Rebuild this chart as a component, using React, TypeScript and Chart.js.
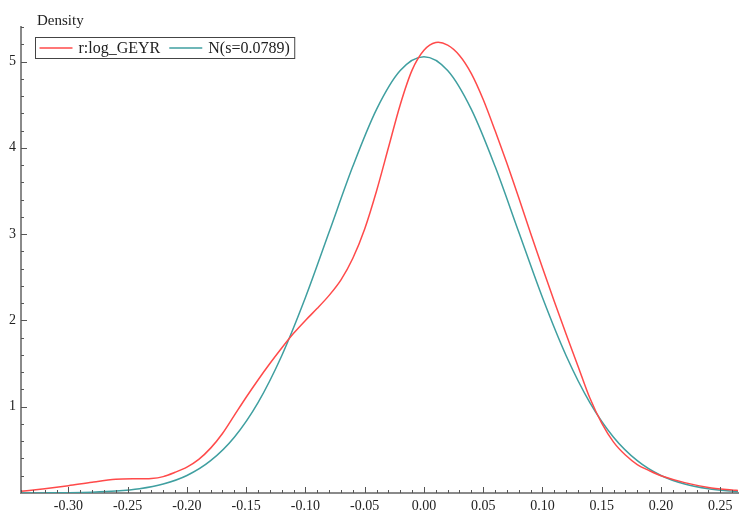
import React, { useEffect, useRef } from "react";
import { Chart, registerables } from "chart.js";

Chart.register(...registerables);

const redX = [-0.34, -0.335, -0.32, -0.30, -0.28, -0.26, -0.24, -0.23, -0.22, -0.21, -0.20, -0.19, -0.18, -0.17, -0.16, -0.15, -0.14, -0.13, -0.12, -0.11, -0.10, -0.09, -0.08, -0.07, -0.06, -0.05, -0.04, -0.03, -0.02, -0.01, 0.0, 0.01, 0.02, 0.03, 0.04, 0.05, 0.06, 0.07, 0.08, 0.09, 0.10, 0.11, 0.12, 0.13, 0.14, 0.15, 0.16, 0.17, 0.18, 0.19, 0.20, 0.22, 0.24, 0.26, 0.265];
const redY = [0.02, 0.027, 0.05, 0.085, 0.125, 0.158, 0.165, 0.167, 0.19, 0.24, 0.30, 0.39, 0.52, 0.69, 0.90, 1.11, 1.31, 1.50, 1.68, 1.85, 2.00, 2.14, 2.29, 2.47, 2.72, 3.06, 3.50, 4.00, 4.50, 4.90, 5.13, 5.22, 5.19, 5.07, 4.86, 4.56, 4.20, 3.82, 3.42, 3.01, 2.61, 2.22, 1.84, 1.47, 1.10, 0.81, 0.59, 0.44, 0.33, 0.26, 0.20, 0.12, 0.065, 0.035, 0.03];

const tealX = [-0.34, -0.32, -0.30, -0.28, -0.26, -0.24, -0.22, -0.20, -0.18, -0.16, -0.14, -0.12, -0.10, -0.08, -0.06, -0.04, -0.02, 0.0, 0.02, 0.04, 0.06, 0.08, 0.10, 0.12, 0.14, 0.16, 0.18, 0.20, 0.22, 0.24, 0.26, 0.265];
const tealY = [0.0005, 0.0014, 0.0037, 0.0093, 0.022, 0.049, 0.104, 0.203, 0.375, 0.647, 1.048, 1.591, 2.265, 3.024, 3.786, 4.446, 4.896, 5.056, 4.896, 4.446, 3.786, 3.024, 2.265, 1.591, 1.048, 0.647, 0.375, 0.203, 0.104, 0.049, 0.022, 0.017];

const xTicks = [-0.30, -0.25, -0.20, -0.15, -0.10, -0.05, 0.0, 0.05, 0.10, 0.15, 0.20, 0.25];
const yTicks = [0, 1, 2, 3, 4, 5];

const seriesLabels = ["r:log_GEYR", "N(s=0.0789)"];
const seriesColors = ["#ff4a4a", "#3f9fa0"];
const yTitle = "Density";

const FONT = "'Liberation Serif', 'Times New Roman', serif";

const decorPlugin = {
  id: "decor",
  afterDraw(chart: any) {
    const ctx = chart.ctx;
    const xs = chart.scales.x;
    const ys = chart.scales.y;
    const area = chart.chartArea;
    ctx.save();
    ctx.strokeStyle = "#555";
    ctx.lineWidth = 1;
    const xmin = xs.min, xmax = xs.max;
    for (let i = Math.ceil(xmin * 100 - 1e-6); i <= Math.floor(xmax * 100 + 1e-6); i++) {
      const v = i / 100;
      const major = i % 5 === 0;
      const px = Math.round(xs.getPixelForValue(v)) + 0.5;
      ctx.beginPath();
      ctx.moveTo(px, area.bottom);
      ctx.lineTo(px, area.bottom - (major ? 6 : 3));
      ctx.stroke();
    }
    for (let i = 1; i * 0.2 <= ys.max + 1e-6; i++) {
      const v = i * 0.2;
      const major = i % 5 === 0;
      const py = Math.round(ys.getPixelForValue(v)) + 0.5;
      ctx.beginPath();
      ctx.moveTo(area.left, py);
      ctx.lineTo(area.left + (major ? 6 : 3), py);
      ctx.stroke();
    }
    ctx.fillStyle = "#222";
    ctx.font = "15px " + FONT;
    ctx.textAlign = "left";
    ctx.textBaseline = "alphabetic";
    ctx.fillText(yTitle, 37, 25);
    ctx.font = "16px " + FONT;
    const bx = 35.5, by = 37.5, bh = 21;
    let x = bx + 4;
    const items: { label: string; color: string }[] = chart.data.datasets.map((d: any) => ({ label: d.label, color: d.borderColor }));
    const widths = items.map((it) => ctx.measureText(it.label).width);
    let total = 4;
    items.forEach((_, i) => { total += 33 + 6 + widths[i] + 9; });
    ctx.strokeStyle = "#444";
    ctx.lineWidth = 1;
    ctx.fillStyle = "#fff";
    ctx.fillRect(bx, by, total - 4, bh);
    ctx.strokeRect(bx, by, total - 4, bh);
    items.forEach((it, i) => {
      ctx.strokeStyle = it.color;
      ctx.lineWidth = 1.5;
      ctx.beginPath();
      ctx.moveTo(x, by + bh / 2);
      ctx.lineTo(x + 33, by + bh / 2);
      ctx.stroke();
      x += 39;
      ctx.fillStyle = "#222";
      ctx.textBaseline = "middle";
      ctx.fillText(it.label, x, by + bh / 2 + 1);
      x += widths[i] + 9;
    });
    ctx.restore();
  },
};

export default function App() {
  const ref = useRef<HTMLCanvasElement | null>(null);
  useEffect(() => {
    document.body.style.margin = "0";
    const canvas = ref.current;
    if (!canvas) return;
    const chart = new Chart(canvas, {
      type: "line",
      data: {
        datasets: [
          {
            label: seriesLabels[0],
            data: redX.map((x, i) => ({ x, y: redY[i] })),
            borderColor: seriesColors[0],
            borderWidth: 1.5,
            pointRadius: 0,
            tension: 0.3,
            fill: false,
          },
          {
            label: seriesLabels[1],
            data: tealX.map((x, i) => ({ x, y: tealY[i] })),
            borderColor: seriesColors[1],
            borderWidth: 1.5,
            pointRadius: 0,
            cubicInterpolationMode: "monotone",
            fill: false,
          },
        ],
      },
      options: {
        responsive: false,
        animation: false,
        layout: { padding: { top: 27, right: 2, left: 0, bottom: 0 } },
        plugins: { legend: { display: false }, tooltip: { enabled: false } },
        scales: {
          x: {
            type: "linear",
            min: -0.34,
            max: 0.265,
            afterBuildTicks: (s: any) => { s.ticks = xTicks.map((v) => ({ value: v })); },
            afterFit: (s: any) => { s.height = 21; },
            grid: { display: false, drawTicks: false },
            border: { display: true, color: "#8a8a8a", width: 2 },
            ticks: {
              padding: 5,
              autoSkip: false,
              maxRotation: 0,
              color: "#222",
              font: { family: FONT, size: 14 },
              callback: (v: any) => Number(v).toFixed(2),
            },
          },
          y: {
            type: "linear",
            min: 0,
            max: 5.4,
            afterBuildTicks: (s: any) => { s.ticks = yTicks.map((v) => ({ value: v })); },
            afterFit: (s: any) => { s.width = 21; },
            grid: { display: false, drawTicks: false },
            border: { display: true, color: "#8a8a8a", width: 2 },
            ticks: {
              padding: 5,
              color: "#222",
              font: { family: FONT, size: 14 },
              callback: (v: any) => (Number(v) === 0 ? "" : String(v)),
            },
          },
        },
      },
      plugins: [decorPlugin],
    } as any);
    return () => chart.destroy();
  }, []);
  return <canvas ref={ref} width={740} height={514} style={{ display: "block" }} />;
}
